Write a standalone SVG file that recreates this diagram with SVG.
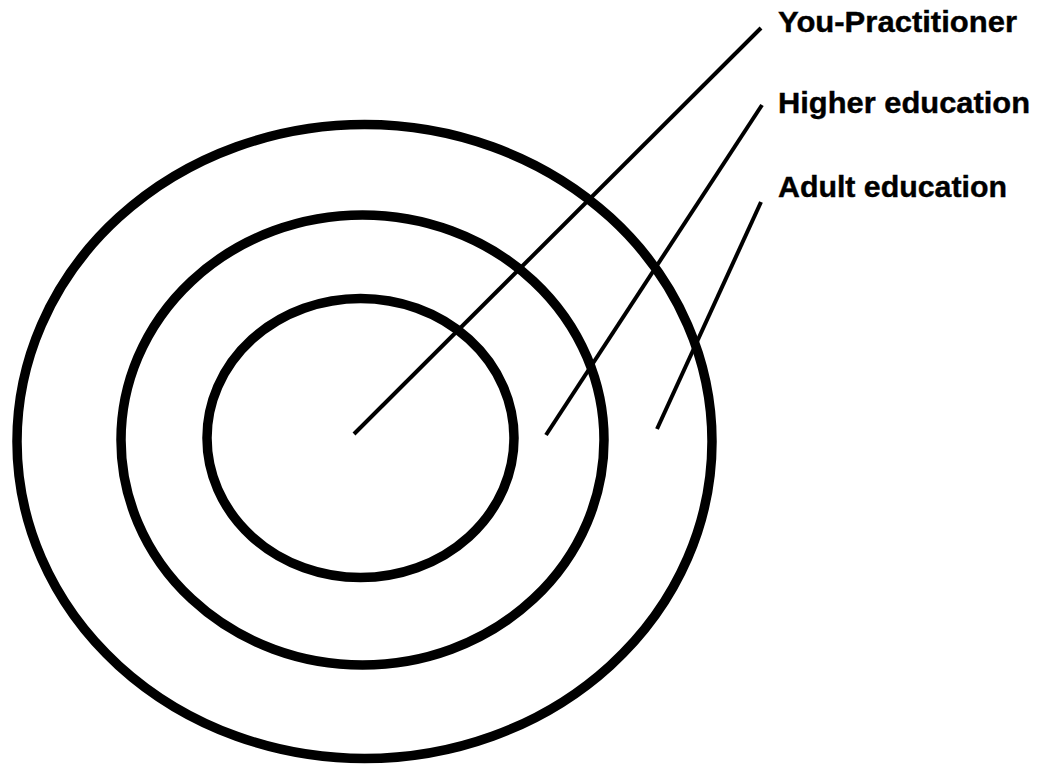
<svg xmlns="http://www.w3.org/2000/svg" width="1048" height="766" viewBox="0 0 1048 766">
<style>
.ring{fill:none;stroke:#000;stroke-width:9.5}
.lead{stroke:#000;stroke-width:4;stroke-linecap:butt}
.lbl{font-family:"Liberation Sans",Arial,sans-serif;font-weight:bold;font-size:30px;fill:#000;stroke:#000;stroke-width:0.4}
</style>
<rect width="1048" height="766" fill="#fff"/>
<g id="outer-ring"><ellipse class="ring" cx="364.5" cy="441.5" rx="347.5" ry="317"/></g>
<g id="middle-ring"><ellipse class="ring" cx="362.5" cy="440" rx="241.5" ry="225"/></g>
<g id="inner-ring"><ellipse class="ring" cx="360.5" cy="438" rx="153.5" ry="139.5"/></g>
<g id="connectors">
<line class="lead" x1="354" y1="434" x2="761" y2="28"/>
<line class="lead" x1="546" y1="435" x2="762" y2="105"/>
<line class="lead" x1="657" y1="429" x2="761" y2="202"/>
</g>
<g id="label-you"><text class="lbl" x="778" y="32" textLength="239" lengthAdjust="spacingAndGlyphs">You-Practitioner</text></g>
<g id="label-higher"><text class="lbl" x="778" y="113" textLength="252" lengthAdjust="spacingAndGlyphs">Higher education</text></g>
<g id="label-adult"><text class="lbl" x="778" y="197" textLength="229" lengthAdjust="spacingAndGlyphs">Adult education</text></g>
</svg>
